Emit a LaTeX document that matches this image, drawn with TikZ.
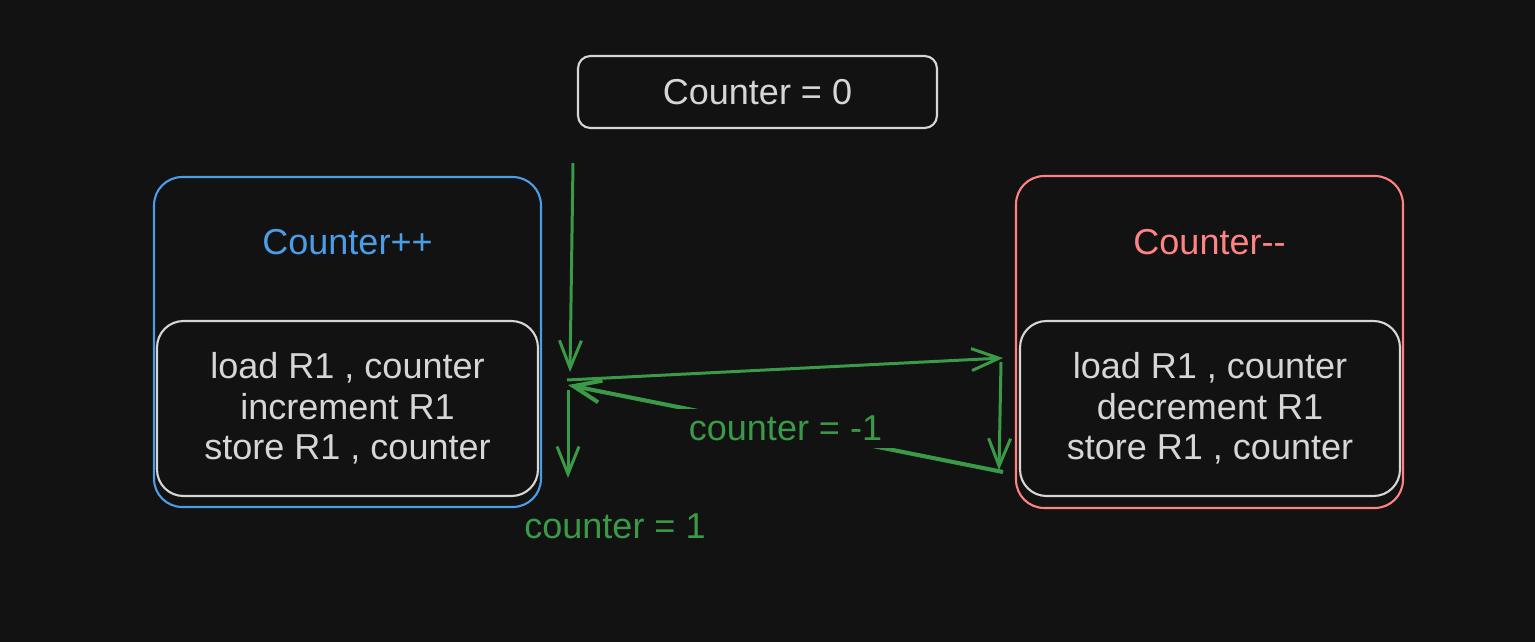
\documentclass[tikz,border=0pt]{standalone}
\usepackage{fontspec}
\setmainfont{Liberation Sans}
\usepackage{xcolor}
\definecolor{canvasDark}{HTML}{121212}
\definecolor{boxGray}{HTML}{D6D6D6}
\definecolor{incBlue}{HTML}{4A9DE6}
\definecolor{decRed}{HTML}{FF8383}
\definecolor{flowGreen}{HTML}{3A9A48}
\usepackage{tikz}
\usetikzlibrary{arrows.meta, positioning}

\begin{document}
\begin{tikzpicture}[
  x=0.02cm, y=-0.02cm,
  box/.style={
    draw=boxGray, line width=1.2pt, rounded corners=15pt,
    font=\fontsize{20.5}{23}\selectfont, text=boxGray, align=center
  },
  outer/.style={
    draw, line width=1.2pt, rounded corners=16pt,
    minimum width=7.74cm, minimum height=6.6cm
  },
  title/.style={font=\fontsize{20.5}{23}\selectfont},
  arrow/.style={-{Straight Barb[length=0.55cm, width=0.44cm]}, line width=1.7pt, color=flowGreen},
  note/.style={font=\fontsize{20.5}{23}\selectfont, text=flowGreen}
]
  \fill[canvasDark] (0,0) rectangle (1535,642);
  \useasboundingbox (0,0) rectangle (1535,642);

  \node[box, rounded corners=7pt, minimum width=7.18cm, minimum height=1.44cm] (zero) at (757.5,92) {Counter = 0};

  \node[outer, draw=incBlue] (inc) at (347.5,342) {};
  \node[title, text=incBlue] (incT) at (347.5,242) {Counter++};
  \node[box, minimum width=7.62cm, minimum height=3.5cm] (incC) at (347.5,408.5)
    {load R1 , counter\\increment R1\\store R1 , counter};

  \node[outer, draw=decRed, minimum height=6.64cm] (dec) at (1209.5,342) {};
  \node[title, text=decRed] (decT) at (1209.5,242) {Counter{-}{-}};
  \node[box, minimum width=7.6cm, minimum height=3.5cm] (decC) at (1210,408.5)
    {load R1 , counter\\decrement R1\\store R1 , counter};

  \coordinate (readA) at (573,163);
  \coordinate (readB) at (570,372);
  \coordinate (loadA) at (567,380);
  \coordinate (loadB) at (1003,358);
  \coordinate (workA) at (1001,362);
  \coordinate (workB) at (999,470);
  \coordinate (backA) at (1003,472);
  \coordinate (backB) at (568,385);
  \coordinate (downA) at (568,390);
  \coordinate (downB) at (568,478);

  \draw[arrow] (readA) -- (readB);
  \draw[arrow] (loadA) -- (loadB);
  \draw[arrow] (workA) -- (workB);
  \draw[arrow, line width=2.3pt] (backA) -- node[note, fill=canvasDark, inner xsep=11pt, inner ysep=4pt] (minus) {counter = -1} (backB);
  \draw[arrow] (downA) -- (downB);
  \node[note] (plus) at (615,526) {counter = 1};
\end{tikzpicture}
\end{document}
